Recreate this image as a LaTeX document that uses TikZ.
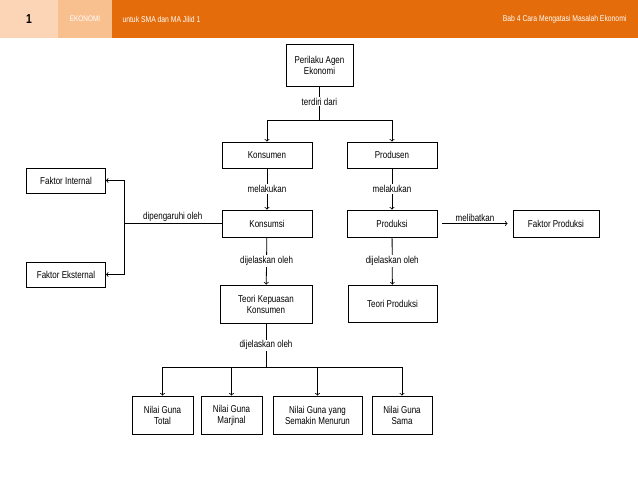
\documentclass[tikz,border=0pt]{standalone}
\usepackage{fontspec}
\setmainfont{Liberation Sans}[FakeStretch=0.8]
\usetikzlibrary{positioning}
\definecolor{bandorange}{HTML}{E46C0A}
\definecolor{bandlight}{HTML}{FBD5B5}
\definecolor{bandmid}{HTML}{F9C08F}
\tikzset{
  kotak/.style={draw,thick,align=center,inner sep=2pt,font=\fontsize{10}{11}\selectfont},
  ket/.style={font=\fontsize{10}{11}\selectfont,fill=white,inner sep=1pt},
  panah/.style={thick,->}
}
\begin{document}
\begin{tikzpicture}[x=1pt,y=-1pt]
  \useasboundingbox (0,0) rectangle (638,479);
  % header
  \fill[bandorange] (0,0) rectangle (638,38);
  \fill[bandlight] (0,0) rectangle (58,38);
  \fill[bandmid] (58,0) rectangle (112,38);
  \node[font=\bfseries\fontsize{13}{14}\selectfont] (nomor) at (29,19) {1};
  \node[white,font=\fontsize{8}{9}\selectfont] (mapel) at (85,19) {EKONOMI};
  \node[white,anchor=west,font=\fontsize{8.5}{9}\selectfont] (judul) at (119,19) {untuk SMA dan MA Jilid 1};
  \node[white,anchor=east,font=\fontsize{8.5}{9}\selectfont] (bab) at (630,19) {Bab 4 Cara Mengatasi Masalah Ekonomi};
  % kotak
  \node[kotak,minimum width=67,minimum height=42] (agen) at (319.5,65) {Perilaku Agen\\Ekonomi};
  \node[kotak,minimum width=90,minimum height=26] (konsumen) at (267,155) {Konsumen};
  \node[kotak,minimum width=90,minimum height=26] (produsen) at (392,155) {Produsen};
  \node[kotak,minimum width=90,minimum height=27] (konsumsi) at (267,223.5) {Konsumsi};
  \node[kotak,minimum width=90,minimum height=27] (produksi) at (392,223.5) {Produksi};
  \node[kotak,minimum width=92,minimum height=38] (kepuasan) at (266,304) {Teori Kepuasan\\Konsumen};
  \node[kotak,minimum width=89,minimum height=37] (teoriprod) at (392.5,303.5) {Teori Produksi};
  \node[kotak,minimum width=79,minimum height=25] (internal) at (66,180.5) {Faktor Internal};
  \node[kotak,minimum width=79,minimum height=25] (eksternal) at (66,274.5) {Faktor Eksternal};
  \node[kotak,minimum width=86,minimum height=27] (faktorprod) at (556,223.5) {Faktor Produksi};
  \node[kotak,minimum width=61,minimum height=38] (total) at (162.5,415) {Nilai Guna\\Total};
  \node[kotak,minimum width=61,minimum height=38] (marjinal) at (231.5,415) {Nilai Guna\\Marjinal};
  \node[kotak,minimum width=89,minimum height=38] (menurun) at (317.5,415) {Nilai Guna yang\\Semakin Menurun};
  \node[kotak,minimum width=60,minimum height=38] (sama) at (402,415) {Nilai Guna\\Sama};
  % penghubung
  \coordinate (cabang1) at (319.5,120);
  \draw[thick] (agen) -- (cabang1) node[ket,pos=0.45] {terdiri dari};
  \draw[panah] (cabang1) -| (konsumen);
  \draw[panah] (cabang1) -| (produsen);
  \draw[panah] (konsumen) -- (konsumsi) node[ket,midway] {melakukan};
  \draw[panah] (produsen) -- (produksi) node[ket,midway] {melakukan};
  \draw[panah] (konsumsi) -- (kepuasan) node[ket,midway] {dijelaskan oleh};
  \draw[panah] (produksi) -- (teoriprod) node[ket,midway] {dijelaskan oleh};
  \coordinate (cabang2) at (124,223.5);
  \draw[thick] (konsumsi) -- (cabang2) node[ket,pos=0.5,above=1pt] {dipengaruhi oleh};
  \draw[panah] (cabang2) |- (internal);
  \draw[panah] (cabang2) |- (eksternal);
  \draw[panah,shorten <=5pt,shorten >=5pt] (produksi) -- (faktorprod) node[ket,midway,above=1pt] {melibatkan};
  \coordinate (cabang3) at (266,367);
  \draw[thick] (kepuasan) -- (cabang3) node[ket,pos=0.5] {dijelaskan oleh};
  \foreach \anak in {total,marjinal,menurun,sama}
    \draw[panah] (cabang3) -| (\anak);
\end{tikzpicture}
\end{document}
